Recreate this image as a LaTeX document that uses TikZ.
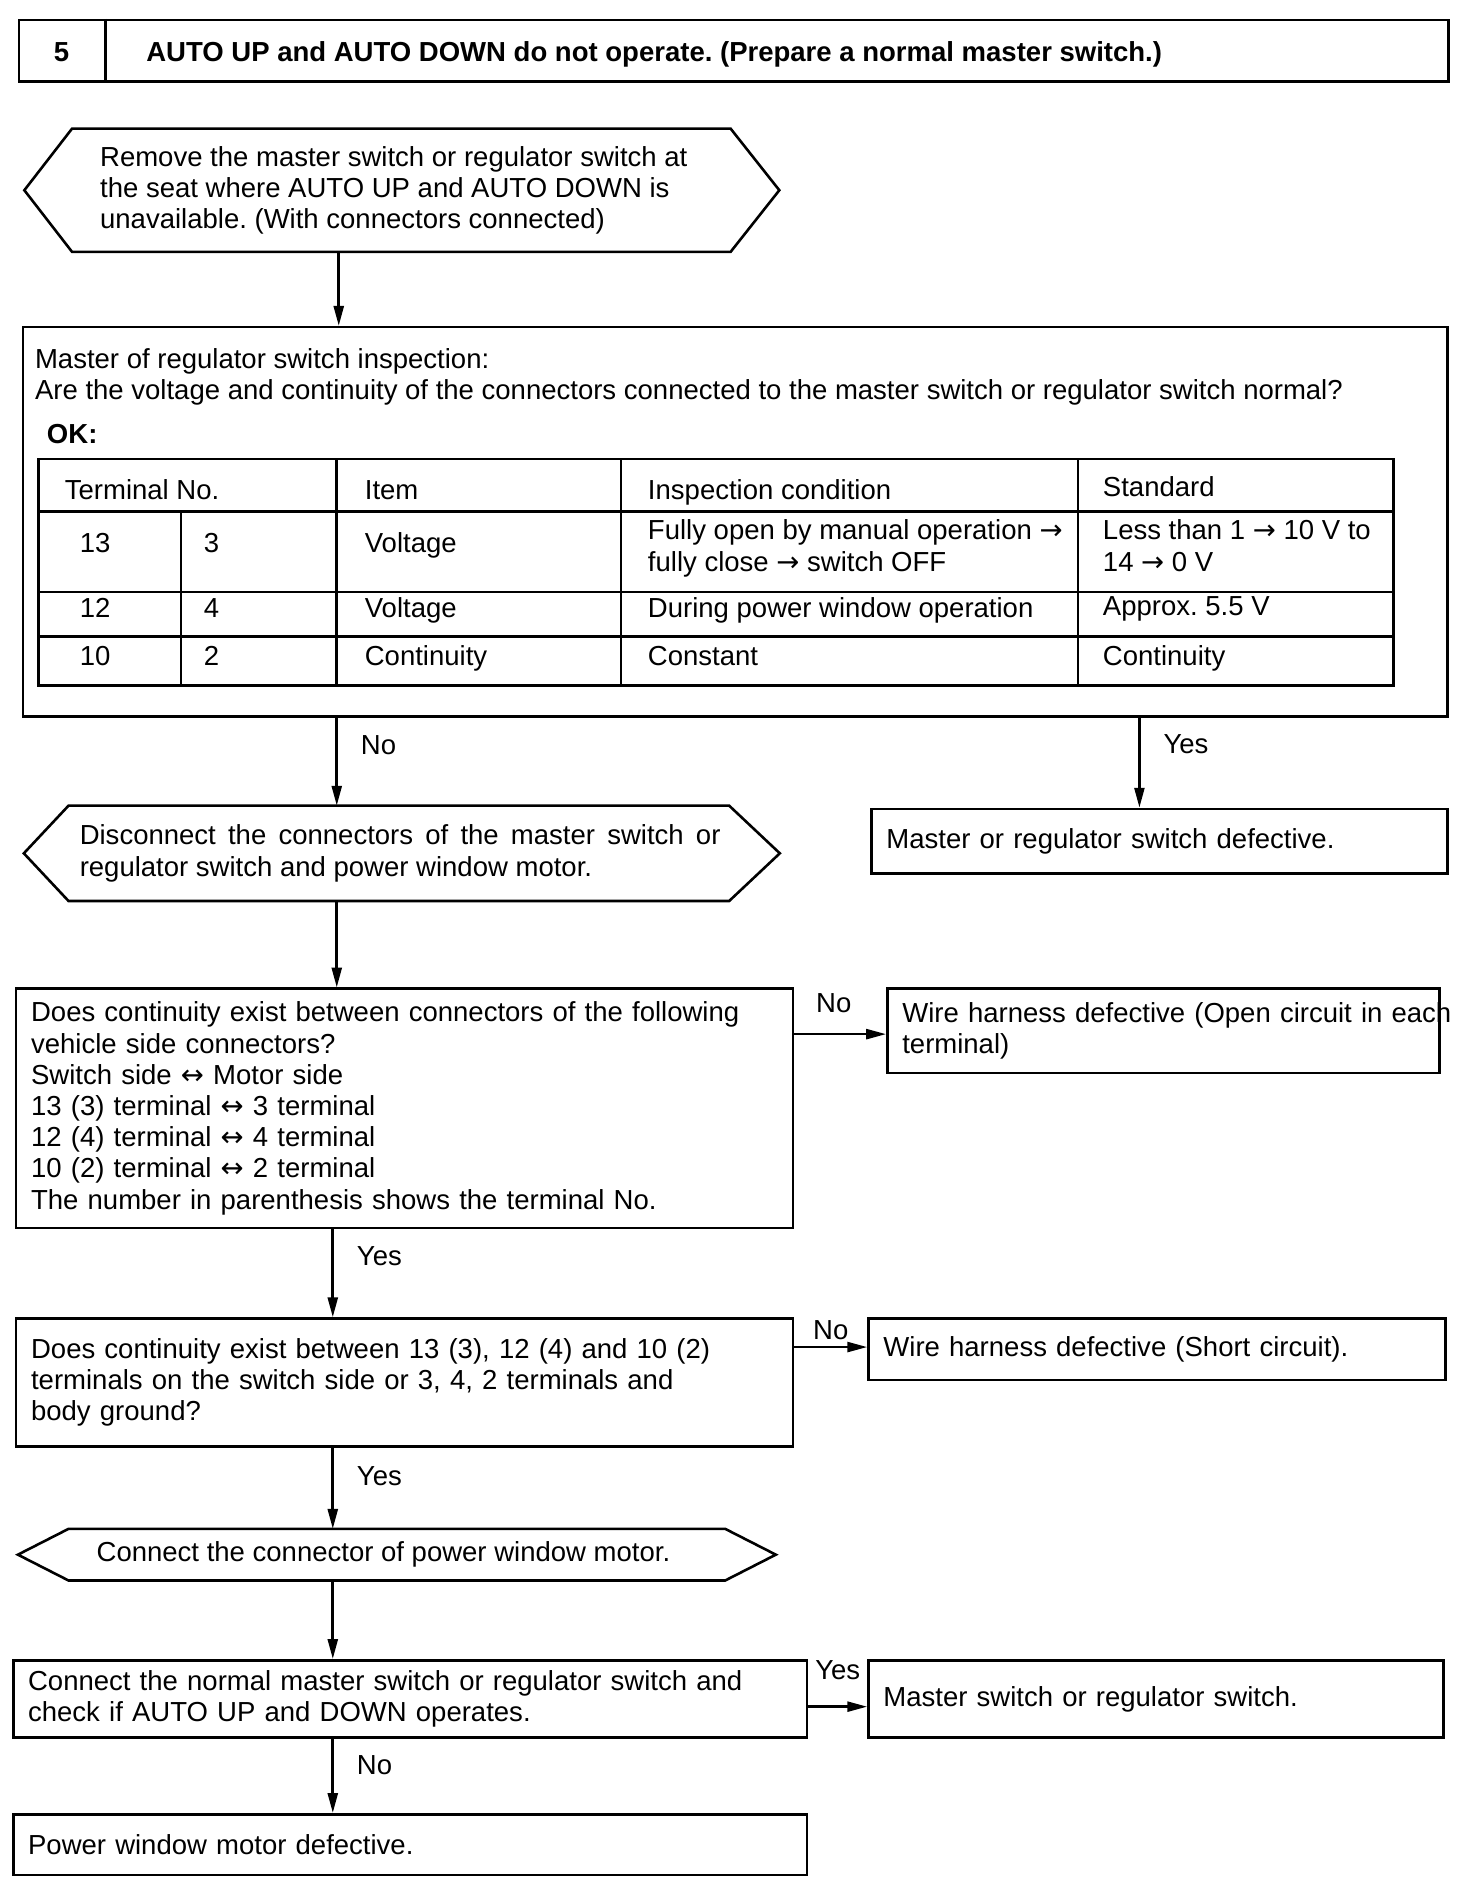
\documentclass[tikz,border=0pt]{standalone}
\usepackage{fontspec}
\setmainfont{Liberation Sans}
\newfontfamily\symfont{DejaVu Sans}
\newcommand{\myra}{{\symfont →}}
\newcommand{\mylr}{{\symfont ↔}}
\usetikzlibrary{arrows.meta,calc}
\begin{document}
\frenchspacing
\begin{tikzpicture}[x=1pt,y=-1pt,line width=2.6pt,
  every node/.style={font=\fontsize{27.7}{31.4}\selectfont,inner sep=0pt},
  box/.style={draw,rectangle,anchor=north west,inner xsep=15pt,inner ysep=0pt,align=left},
  frame/.style={draw,rectangle,anchor=north west,inner sep=0pt},
  hexbody/.style={rectangle,anchor=north west,inner sep=0pt,outer sep=0pt},
  txt/.style={align=left},
  cell/.style={anchor=base west},
  arr/.style={-{Triangle[length=20pt,width=10pt]}},
  vlbl/.style={anchor=west,xshift=23pt},
  hlbl/.style={anchor=south}]
\useasboundingbox (0,0) rectangle (1481.8,1906.6);

% column and row coordinates for connectors
\coordinate (c1) at (341,0);
\coordinate (c2) at (339,0);
\coordinate (c3) at (335,0);
\coordinate (c4) at (335,0);
\coordinate (c5) at (1147,0);
\coordinate (r1) at (0,1041);
\coordinate (r2) at (0,1356);
\coordinate (r3) at (0,1718);

% header
\node[frame,minimum width=1439pt,minimum height=62pt] (hdr) at (18,19) {};
\draw ([xshift=88pt]hdr.north west) -- ([xshift=88pt]hdr.south west);
\node[anchor=base] (hnum) at (62,61.5) {\bfseries 5};
\node[anchor=base west] (htitle) at (146,61.5) {\bfseries AUTO UP and AUTO DOWN do not operate. (Prepare a normal master switch.)};

% hexagon 1
\node[hexbody,minimum width=663pt,minimum height=124pt] (h1) at (72.5,129.5) {};
\draw (h1.north west) -- (h1.north east) -- ($(h1.east)+(49,0)$) -- (h1.south east)
  -- (h1.south west) -- ($(h1.west)+(-48,0)$) -- cycle;
\node[txt,anchor=west] (h1t) at ($(h1.west)+(27,0)$) {Remove the master switch or regulator switch at\\the seat where AUTO UP and AUTO DOWN is\\unavailable. (With connectors connected)};

% big inspection box
\node[frame,minimum width=1434pt,minimum height=392pt] (big) at (22,328) {};
\node[cell] (bt1) at (34,371) {Master of regulator switch inspection:};
\node[cell] (bt2) at (34,402) {Are the voltage and continuity of the connectors connected to the master switch or regulator switch normal?};
\node[cell] (bt3) at (46,446) {\bfseries OK:};

% table
\draw (39,462) rectangle (1403,690);
\draw (39,515) -- (1403,515);
\draw (39,596) -- (1403,596);
\draw (39,641) -- (1403,641);
\draw (339,462) -- (339,690);
\draw (625,462) -- (625,690);
\draw (1085,462) -- (1085,690);
\draw (182,515) -- (182,690);
\node[cell] (th1) at (64,503) {Terminal No.};
\node[cell] (th2) at (366,503) {Item};
\node[cell] (th3) at (651,503) {Inspection condition};
\node[cell] (th4) at (1109,500) {Standard};
\node[cell] (t11) at (79,556) {13};
\node[cell] (t12) at (204,556) {3};
\node[cell] (t13) at (366,556) {Voltage};
\node[cell] (t14a) at (651,543) {Fully open by manual operation \myra};
\node[cell] (t14b) at (651,575) {fully close \myra{} switch OFF};
\node[cell] (t15a) at (1109,543) {Less than 1 \myra{} 10 V to};
\node[cell] (t15b) at (1109,575) {14 \myra{} 0 V};
\node[cell] (t21) at (79,622) {12};
\node[cell] (t22) at (204,622) {4};
\node[cell] (t23) at (366,622) {Voltage};
\node[cell] (t24) at (651,622) {During power window operation};
\node[cell] (t25) at (1109,620) {Approx. 5.5 V};
\node[cell] (t31) at (79,670) {10};
\node[cell] (t32) at (204,670) {2};
\node[cell] (t33) at (366,670) {Continuity};
\node[cell] (t34) at (651,670) {Constant};
\node[cell] (t35) at (1109,670) {Continuity};

% result: switch defective
\node[box,text width=550pt,minimum height=65pt] (fail1) at (876,813) {Master or regulator switch defective.};

% hexagon 2
\node[hexbody,minimum width=665pt,minimum height=96pt] (h2) at (69,811) {};
\draw (h2.north west) -- (h2.north east) -- ($(h2.east)+(51,0)$) -- (h2.south east)
  -- (h2.south west) -- ($(h2.west)+(-45,0)$) -- cycle;
\node[txt,anchor=west] (h2t) at ($(h2.west)+(10,0)$) {\makebox[645pt][s]{Disconnect the connectors of the master switch or}\\regulator switch and power window motor.};

% box 3
\node[box,text width=752pt,minimum height=241pt] (b3) at (15,994) {Does continuity exist between connectors of the following\\vehicle side connectors?\\Switch side \mylr{} Motor side\\13 (3) terminal \mylr{} 3 terminal\\12 (4) terminal \mylr{} 4 terminal\\10 (2) terminal \mylr{} 2 terminal\\The number in parenthesis shows the terminal No.};
\node[box,text width=526pt,minimum height=85pt] (wire1) at (892,994) {\mbox{Wire harness defective (Open circuit in each}\\terminal)};

% box 4
\node[box,text width=752pt,minimum height=129pt] (b4) at (15,1326) {Does continuity exist between 13 (3), 12 (4) and 10 (2)\\terminals on the switch side or 3, 4, 2 terminals and\\body ground?};
\node[box,text width=551pt,minimum height=62pt] (short) at (873,1326) {Wire harness defective (Short circuit).};

% hexagon 3
\node[hexbody,minimum width=661pt,minimum height=52pt] (h3) at (69,1539) {};
\draw (h3.north west) -- (h3.north east) -- ($(h3.east)+(51,0)$) -- (h3.south east)
  -- (h3.south west) -- ($(h3.west)+(-51,0)$) -- cycle;
\node[txt,anchor=west] (h3t) at ($(h3.west)+(27,0)$) {Connect the connector of power window motor.};

% box 5 and results
\node[box,text width=769pt,minimum height=78pt] (b5) at (12,1670) {Connect the normal master switch or regulator switch and\\check if AUTO UP and DOWN operates.};
\node[box,text width=549pt,minimum height=78pt] (ms) at (873,1670) {Master switch or regulator switch.};
\node[box,text width=769pt,minimum height=61pt] (b6) at (12,1825) {Power window motor defective.};

% connectors
\draw[arr] (h1.south -| c1) -- (big.north -| c1);
\draw[arr] (big.south -| c2) -- node[vlbl,pos=0.31] {No} (h2.north -| c2);
\draw[arr] (big.south -| c5) -- node[vlbl,pos=0.29] {Yes} (fail1.north -| c5);
\draw[arr] (h2.south -| c2) -- (b3.north -| c2);
\draw[arr] (b3.east |- r1) -- node[hlbl,pos=0.43,yshift=20pt] {No} (wire1.west |- r1);
\draw[arr] (b3.south -| c3) -- node[vlbl,pos=0.30] {Yes} (b4.north -| c3);
\draw[arr] (b4.east |- r2) -- node[hlbl,pos=0.5,yshift=6pt] {No} (short.west |- r2);
\draw[arr] (b4.south -| c3) -- node[vlbl,pos=0.35] {Yes} (h3.north -| c3);
\draw[arr] (h3.south -| c4) -- (b5.north -| c4);
\draw[arr] (b5.east |- r3) -- node[hlbl,pos=0.5,yshift=26pt] {Yes} (ms.west |- r3);
\draw[arr] (b5.south -| c4) -- node[vlbl,pos=0.35] {No} (b6.north -| c4);
\end{tikzpicture}
\end{document}
